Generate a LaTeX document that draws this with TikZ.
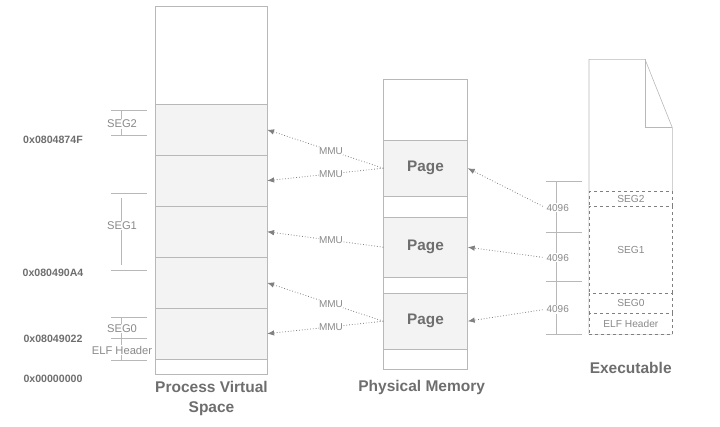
\documentclass[tikz,border=0pt]{standalone}
\usepackage{fontspec}
\setmainfont{Liberation Sans}
\usetikzlibrary{arrows.meta,positioning}
\definecolor{linegray}{HTML}{B8B8B8}
\definecolor{textgray}{HTML}{8A8A8A}
\definecolor{titlegray}{HTML}{6E6E6E}
\definecolor{arrowgray}{HTML}{808080}
\definecolor{segfill}{HTML}{F3F3F3}
\tikzset{
  cell/.style={draw=linegray, inner sep=0pt, anchor=north west},
  vcell/.style={cell, minimum width=111.7pt},
  pcell/.style={cell, minimum width=84pt},
  ecell/.style={cell, draw=arrowgray, dashed, minimum width=83.3pt, text=textgray, font=\fontsize{10.2}{12}\selectfont},
  shaded/.style={fill=segfill},
  seglabel/.style={text=textgray, font=\fontsize{11.2}{13}\selectfont, fill=white, inner sep=0.8pt},
  sizelabel/.style={text=textgray, font=\fontsize{10}{12}\selectfont, fill=white, inner sep=0.8pt},
  addr/.style={text=titlegray, font=\bfseries\fontsize{10.6}{12}\selectfont},
  coltitle/.style={text=titlegray, font=\bfseries\fontsize{15.5}{20}\selectfont, align=center},
  pagelabel/.style={text=titlegray, font=\bfseries\fontsize{15.3}{18}\selectfont},
  maparrow/.style={draw=arrowgray, line width=0.8pt, dash pattern=on 0.8pt off 2pt, -{Latex[length=7pt,width=5.5pt]}},
  mmulabel/.style={text=textgray, font=\fontsize{10}{12}\selectfont, fill=white, inner sep=0.5pt},
  bracket/.style={draw=linegray, line width=0.6pt}
}
\begin{document}
\begin{tikzpicture}[x=1pt,y=-1pt]
\useasboundingbox (0,0) rectangle (720,426);

% Process virtual space column
\node[vcell, minimum height=98pt] (vtop) at (155,6) {};
\foreach \i/\y in {1/104,2/155,3/206,4/257,5/308}
  \node[vcell, shaded, minimum height=51pt] (vs\i) at (155,\y) {};
\node[vcell, minimum height=15pt] (vbot) at (155,359) {};
\node[coltitle] (vtitle) at (211.5,398) {Process Virtual\\Space};

% segment marks on the left
\draw[bracket] (111,110.7) -- (147,110.7) (111,135.7) -- (147,135.7) (121,110.7) -- (121,135.7);
\node[seglabel] (lseg2) at (122,124) {SEG2};
\draw[bracket] (111,193.3) -- (147,193.3) (111,270.7) -- (147,270.7) (121,198) -- (121,265);
\node[seglabel] (lseg1) at (122,225.7) {SEG1};
\draw[bracket] (111,317.7) -- (147,317.7) (111,338.3) -- (147,338.3) (111,360) -- (147,360) (121,317.7) -- (121,360);
\node[seglabel] (lseg0) at (122,328.7) {SEG0};
\node[seglabel] (lelf) at (122,350) {ELF Header};

% addresses
\node[addr] (a1) at (53,140) {0x0804874F};
\node[addr] (a2) at (53,272.7) {0x080490A4};
\node[addr] (a3) at (53,339.3) {0x08049022};
\node[addr] (a4) at (53,379.3) {0x00000000};

% Physical memory column
\node[pcell, minimum height=61pt] (ptop) at (383.3,79) {};
\node[pcell, shaded, minimum height=56pt, pagelabel] (page1) at (383.3,140) {Page};
\node[pcell, minimum height=21pt] (pgap1) at (383.3,196) {};
\node[pcell, shaded, minimum height=60pt, pagelabel] (page2) at (383.3,217) {Page};
\node[pcell, minimum height=16pt] (pgap2) at (383.3,277) {};
\node[pcell, shaded, minimum height=56pt, pagelabel] (page3) at (383.3,293) {Page};
\node[pcell, minimum height=20pt] (pbot) at (383.3,349) {};
\node[coltitle] (ptitle) at (421.7,387) {Physical Memory};

% MMU mappings
\draw[maparrow] (page1.west) -- node[mmulabel, pos=0.45] {MMU} (vs1.east);
\draw[maparrow] (page1.west) -- node[mmulabel, pos=0.45] {MMU} (vs2.east);
\draw[maparrow] (page2.west) -- node[mmulabel, pos=0.45] {MMU} (vs3.east);
\draw[maparrow] (page3.west) -- node[mmulabel, pos=0.45] {MMU} (vs4.east);
\draw[maparrow] (page3.west) -- node[mmulabel, pos=0.45] {MMU} (vs5.east);

% Executable file
\draw[linegray, line width=0.6pt] (589,59.3) -- (645,59.3) -- (672.3,127.7) -- (672.3,334) -- (589,334) -- cycle;
\draw[linegray, line width=0.6pt] (645,59.3) -- (645,127.7) -- (672.3,127.7);
\node[ecell, fill=white, minimum height=15pt] (eseg2) at (589,191) {SEG2};
\node[ecell, fill=white, minimum height=87pt] (eseg1) at (589,206) {SEG1};
\node[ecell, fill=white, minimum height=20pt] (eseg0) at (589,293) {SEG0};
\node[ecell, fill=white, minimum height=21pt] (eelf) at (589,313) {ELF Header};
\node[coltitle] (etitle) at (630.7,368.3) {Executable};

% 4096 byte blocks
\draw[bracket] (546,181) -- (581.7,181) (546,232.3) -- (581.7,232.3) (546,281.7) -- (581.7,281.7) (546,334) -- (581.7,334) (556,181) -- (556,334);
\node[sizelabel] (b1) at (557.7,207.7) {4096};
\node[sizelabel] (b2) at (557.7,257.7) {4096};
\node[sizelabel] (b3) at (557.7,309.3) {4096};

% loading pages from the file
\draw[maparrow, shorten <=3pt] (b1.west) -- (page1.east);
\draw[maparrow, shorten <=3pt] (b2.west) -- (page2.east);
\draw[maparrow, shorten <=3pt] (b3.west) -- (page3.east);
\end{tikzpicture}
\end{document}
